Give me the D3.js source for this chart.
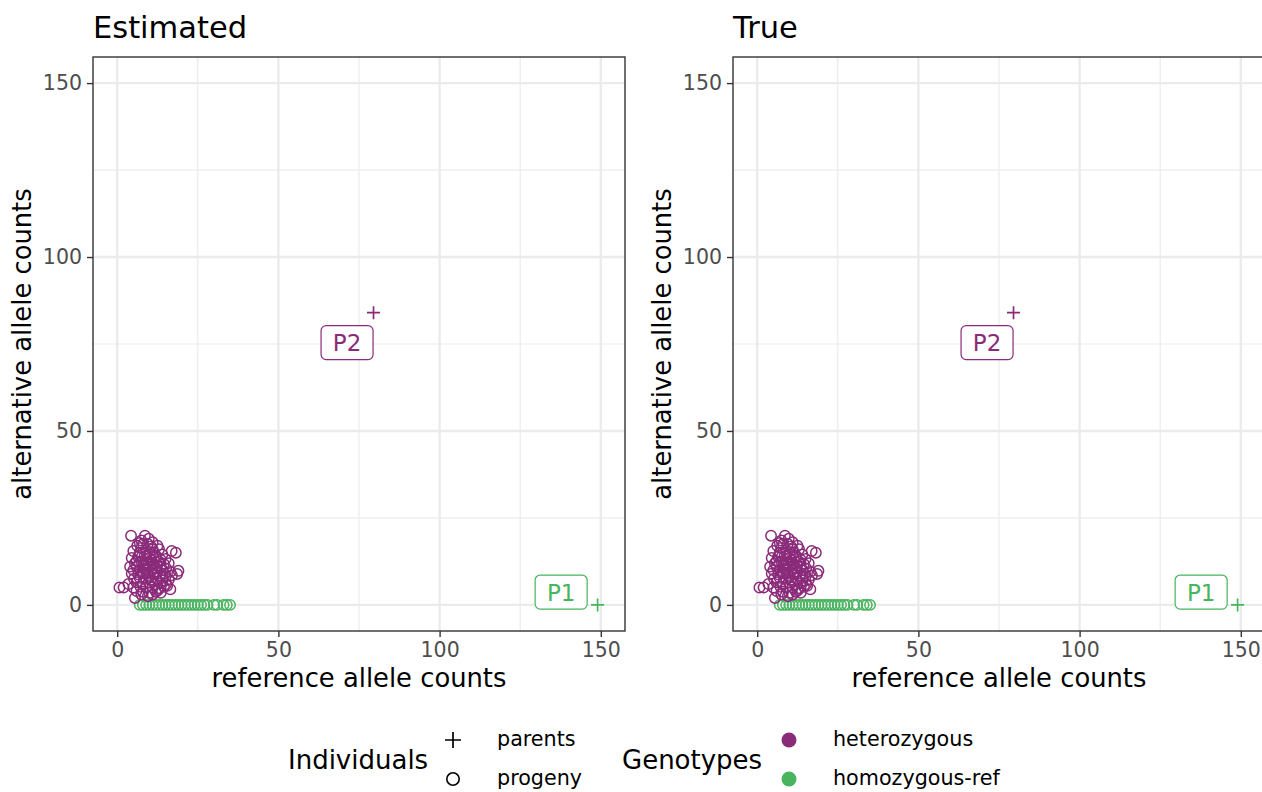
<!DOCTYPE html>
<html><head><meta charset="utf-8">
<script src="https://cdn.jsdelivr.net/npm/d3@7"></script>
<style>html,body{margin:0;padding:0;background:#fff;}svg{display:block;font-family:"DejaVu Sans",sans-serif;}</style>
</head><body>
<svg id="chart" width="1262" height="792"></svg>
<script>
// ---------- data ----------
const panelTitles = ["Estimated", "True"];
const axisTicks = [0, 50, 100, 150];
const minorTicks = [25, 75, 125];

// parents
const parentNames = ["P1", "P2"];
const parentRef = [149, 79.5];
const parentAlt = [0, 84];
const parentGeno = ["homozygous-ref", "heterozygous"];
const labelRef = [137.7, 71.3];
const labelAlt = [3.7, 75.4];

// progeny: heterozygous
const hetRef = [4.3,8.6,7.5,9.8,11,6.2,8,10.5,12.5,13,16.9,18.2,5,7,9,11.5,14,4.5,6.5,8.5,10,12,13.5,15,5.5,7.5,9.2,11,12.8,14.5,16,4,6,8,10,11.8,13.5,15.2,19,18.6,5,7,9,10.8,12.5,14,16.5,4.5,6.5,8.2,9.8,11.5,13.2,15,17,5.2,7,9,10.5,12.2,14,16,6,8,9.8,11.6,13.4,15.2,3.5,0.7,2,5,7.2,9,11,12.8,14.5,6,8,10,12,5.5,7.5,9.5,11,13.5,16.5,15.5,6.8,10.2,12,8.5,11.2,9.6,10.7,8.8,12.4,7.8,13,14.8,6,11,9.5,7,10,9,11.8,8.2,10.4,12.6,7.4,9.3];
const hetAlt = [19.9,19.9,18.5,19,18,17,17.5,16.8,17,16,15.5,15,15.5,15,15.2,15,14.5,13.5,13.8,14,13.5,13.8,13,13.2,12,12.5,12.2,12,12.4,11.8,12,11,11,11.2,11,10.8,11,10.5,9.8,8.9,10,10,9.8,10,9.6,10,9.5,9,8.8,9,8.6,8.8,8.5,8.2,8.5,7.5,7.8,7.5,7.2,7.5,7,7.2,6.5,6.2,6.4,6,6.2,6,6,5,5,5,5.2,5,5,4.8,5.2,4,3.8,3.5,3.8,2,3,2.5,3,3.5,4.5,5.5,14.2,14.5,14.2,10.3,9.2,11.8,12.8,13,11.2,9.5,12.5,9,12.6,16,17.5,17.8,8,10.6,9.4,11.6,7.2,4.2,16.4,9.1];

// progeny: homozygous-ref
const homRef = [7,8,9,10,11,12,13,14,15,16,17,18,19,20,21,22,23,24,25,26,27,28,30,31,33,34,35];
const homAlt = [0,0,0,0,0,0,0,0,0,0,0,0,0,0,0,0,0,0,0,0,0,0,0,0,0,0,0];

const genotypes = ["heterozygous", "homozygous-ref"];
const genoColors = ["#8A2B7A", "#48B45E"];
const individuals = ["parents", "progeny"];

// ---------- drawing ----------
const svg = d3.select("#chart");
svg.append("rect").attr("width", 1262).attr("height", 792).attr("fill", "#fff");
const color = d3.scaleOrdinal().domain(genotypes).range(genoColors);

const panelW = 532, panelH = 574, panelTop = 57;
const panelLefts = [93, 733];

function drawPanel(left, title) {
  const x = d3.scaleLinear().domain([-7.5, 157.5]).range([left, left + panelW]);
  const y = d3.scaleLinear().domain([-7.5, 157.5]).range([panelTop + panelH, panelTop]);
  const g = svg.append("g");
  const clipId = "clip" + left;
  g.append("clipPath").attr("id", clipId).append("rect")
    .attr("x", left).attr("y", panelTop).attr("width", panelW).attr("height", panelH);
  const grid = g.append("g").attr("clip-path", `url(#${clipId})`);
  minorTicks.forEach(t => {
    grid.append("line").attr("x1", x(t)).attr("x2", x(t)).attr("y1", panelTop).attr("y2", panelTop + panelH)
      .attr("stroke", "#EBEBEB").attr("stroke-width", 1.2);
    grid.append("line").attr("y1", y(t)).attr("y2", y(t)).attr("x1", left).attr("x2", left + panelW)
      .attr("stroke", "#EBEBEB").attr("stroke-width", 1.2);
  });
  axisTicks.forEach(t => {
    grid.append("line").attr("x1", x(t)).attr("x2", x(t)).attr("y1", panelTop).attr("y2", panelTop + panelH)
      .attr("stroke", "#EBEBEB").attr("stroke-width", 2.4);
    grid.append("line").attr("y1", y(t)).attr("y2", y(t)).attr("x1", left).attr("x2", left + panelW)
      .attr("stroke", "#EBEBEB").attr("stroke-width", 2.4);
  });

  const pts = g.append("g").attr("clip-path", `url(#${clipId})`);
  pts.selectAll(".hom").data(homRef.map((r, i) => [r, homAlt[i]])).enter().append("circle")
    .attr("cx", d => x(d[0])).attr("cy", d => y(d[1])).attr("r", 5.2)
    .attr("fill", "none").attr("stroke", color("homozygous-ref")).attr("stroke-width", 1.5);
  pts.selectAll(".het").data(hetRef.map((r, i) => [r, hetAlt[i]])).enter().append("circle")
    .attr("cx", d => x(d[0])).attr("cy", d => y(d[1])).attr("r", 5.2)
    .attr("fill", "none").attr("stroke", color("heterozygous")).attr("stroke-width", 1.5);
  parentNames.forEach((n, i) => {
    const px = x(parentRef[i]), py = y(parentAlt[i]), s = 6.5;
    pts.append("path").attr("d", `M${px - s},${py}H${px + s}M${px},${py - s}V${py + s}`)
      .attr("stroke", color(parentGeno[i])).attr("stroke-width", 1.7).attr("fill", "none");
    const lx = x(labelRef[i]), ly = y(labelAlt[i]);
    const t = pts.append("text").attr("x", lx).attr("y", ly + 8.5).attr("text-anchor", "middle")
      .attr("font-size", 23).attr("fill", color(parentGeno[i])).text(n);
    const w = 52, h = 34;
    pts.insert("rect", () => t.node()).attr("x", lx - w / 2).attr("y", ly - h / 2).attr("width", w).attr("height", h)
      .attr("rx", 5).attr("fill", "#fff").attr("stroke", color(parentGeno[i])).attr("stroke-width", 1.2);
  });

  g.append("rect").attr("x", left).attr("y", panelTop).attr("width", panelW).attr("height", panelH)
    .attr("fill", "none").attr("stroke", "#333333").attr("stroke-width", 1.4);

  const xAxis = d3.axisBottom(x).tickValues(axisTicks).tickSize(6).tickPadding(5);
  const yAxis = d3.axisLeft(y).tickValues(axisTicks).tickSize(6).tickPadding(5);
  const gx = g.append("g").attr("transform", `translate(0,${panelTop + panelH})`).call(xAxis);
  const gy = g.append("g").attr("transform", `translate(${left},0)`).call(yAxis);
  [gx, gy].forEach(a => {
    a.select(".domain").remove();
    a.selectAll("line").attr("stroke", "#333333").attr("stroke-width", 1.4);
    a.selectAll("text").attr("fill", "#4D4D4D").attr("font-size", 20.5).attr("font-family", "DejaVu Sans");
  });

  g.append("text").attr("x", left).attr("y", 38).attr("font-size", 30.5).attr("fill", "#000").text(title);
  g.append("text").attr("x", left + panelW / 2).attr("y", 687).attr("text-anchor", "middle")
    .attr("font-size", 25.8).attr("fill", "#000").text("reference allele counts");
  g.append("text").attr("transform", `translate(${left - 62},${panelTop + panelH / 2}) rotate(-90)`)
    .attr("text-anchor", "middle").attr("font-size", 25.8).attr("fill", "#000").text("alternative allele counts");
}

panelTitles.forEach((t, i) => drawPanel(panelLefts[i], t));

// ---------- legend ----------
const leg = svg.append("g");
leg.append("text").attr("x", 288).attr("y", 769).attr("font-size", 26).text("Individuals");
leg.append("path").attr("d", "M445,740H461M453,732V748").attr("stroke", "#000").attr("stroke-width", 1.7);
leg.append("circle").attr("cx", 453).attr("cy", 779).attr("r", 6.2).attr("fill", "none").attr("stroke", "#000").attr("stroke-width", 1.6);
individuals.forEach((d, i) => {
  leg.append("text").attr("x", 497).attr("y", [746, 785][i]).attr("font-size", 20.7).attr("fill", "#000").text(d);
});
leg.append("text").attr("x", 622).attr("y", 769).attr("font-size", 26).text("Genotypes");
genotypes.forEach((d, i) => {
  leg.append("circle").attr("cx", 789).attr("cy", [740, 779][i]).attr("r", 7.5).attr("fill", color(d));
  leg.append("text").attr("x", 833).attr("y", [746, 785][i]).attr("font-size", 20.7).attr("fill", "#000").text(d);
});
</script>
</body></html>
